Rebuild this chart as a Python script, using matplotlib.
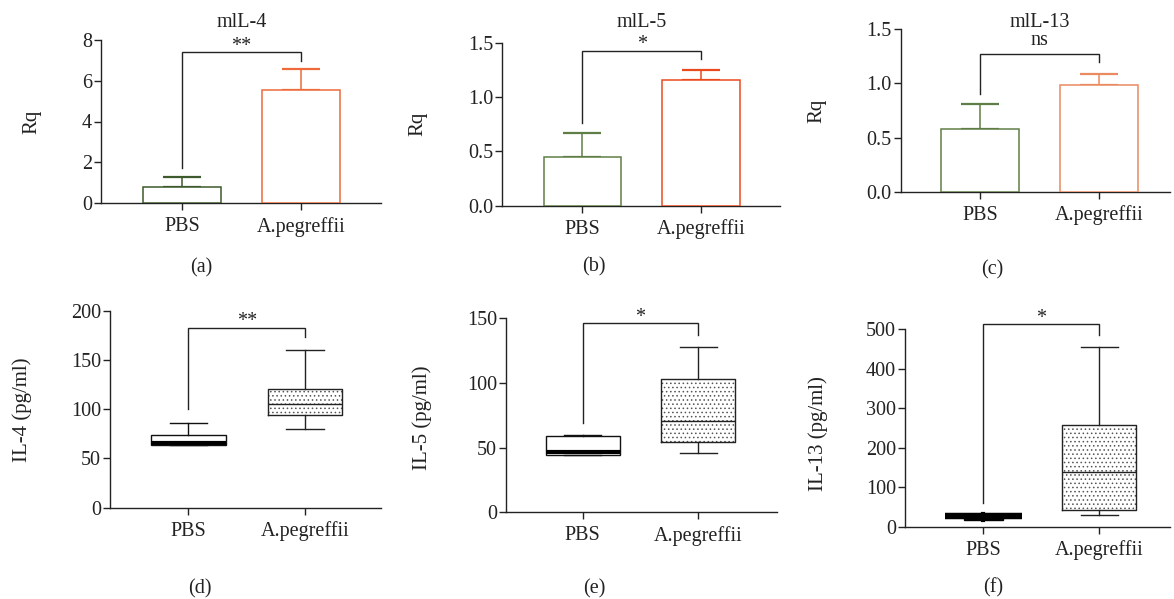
import matplotlib
matplotlib.use("Agg")
import matplotlib.pyplot as plt
import numpy as np

plt.rcParams['font.family'] = ['Liberation Serif', 'DejaVu Serif']
plt.rcParams['hatch.linewidth'] = 0.6

# ---------------- data ----------------
categories = ["PBS", "A.pegreffii"]

# top row: qPCR relative quantity (mean, upper SEM)
titles_top = ["mlL-4", "mlL-5", "mlL-13"]
a_mean = [0.80, 5.55]
a_err = [0.47, 1.05]
b_mean = [0.45, 1.157]
b_err = [0.215, 0.095]
c_mean = [0.58, 0.99]
c_err = [0.23, 0.10]
sig_top = ["**", "*", "ns"]
ylim_top = [8, 1.5, 1.5]
yticks_top = [[0, 2, 4, 6, 8], [0.0, 0.5, 1.0, 1.5], [0.0, 0.5, 1.0, 1.5]]
ytick_labels_top = [["0", "2", "4", "6", "8"],
                    ["0.0", "0.5", "1.0", "1.5"],
                    ["0.0", "0.5", "1.0", "1.5"]]
# bracket: (level, left foot, right foot)
brk_a = (7.4, 1.7, 6.97)
brk_b = (1.426, 0.764, 1.347)
brk_c = (1.272, 0.903, 1.20)

# bottom row: ELISA boxplots (min, q1, median, q3, max)
d_pbs = [63.7, 63.7, 65.7, 73.5, 85.7]
d_apeg = [80.0, 93.8, 105.3, 120.5, 160.0]
e_pbs = [44.0, 44.5, 47.0, 58.8, 60.0]
e_apeg = [46.1, 54.6, 70.8, 103.3, 128.0]
f_pbs = [26.0, 18.0, 25.0, 32.0, 28.0]
f_apeg = [30.0, 43.0, 138.0, 257.0, 455.0]
sig_bot = ["**", "*", "*"]
ylabels_bot = ["IL-4 (pg/ml)", "IL-5 (pg/ml)", "IL-13 (pg/ml)"]
ylim_bot = [200, 150, 500]
yticks_bot = [[0, 50, 100, 150, 200], [0, 50, 100, 150], [0, 100, 200, 300, 400, 500]]
brk_d = (182.7, 100.2, 173.0)
brk_e = (146.0, 68.8, 137.0)
brk_f = (512.0, 59.0, 485.0)

panel_letters = ["(a)", "(b)", "(c)", "(d)", "(e)", "(f)"]

# ---------------- layout ----------------
W, H = 1174, 599
fig = plt.figure(figsize=(W / 100, H / 100), dpi=100)

def px_axes(x0, x1, ytop, ybot):
    return fig.add_axes([x0 / W, (H - ybot) / H, (x1 - x0) / W, (ybot - ytop) / H])

ax_a = px_axes(101, 381, 40, 203)
ax_b = px_axes(502.3, 780, 42.7, 205.7)
ax_c = px_axes(900.7, 1170, 29.3, 191.7)
ax_d = px_axes(110, 381, 310.7, 507.7)
ax_e = px_axes(506, 776.7, 318.3, 512.3)
ax_f = px_axes(905, 1170, 329, 526.7)

xlims = [(-0.68, 1.67), (-0.674, 1.666), (-0.666, 1.597),
         (-0.671, 1.651), (-0.663, 1.677), (-0.675, 1.61)]

TXT = "#222222"
FS = 14.5

def style(ax, xl):
    for s in ["top", "right"]:
        ax.spines[s].set_visible(False)
    for s in ["left", "bottom"]:
        ax.spines[s].set_linewidth(1.0)
        ax.spines[s].set_color("#222222")
    ax.set_xlim(*xl)
    ax.set_xticks([0, 1])
    ax.set_xticklabels(categories, fontsize=FS, color=TXT)
    ax.tick_params(axis="x", direction="out", length=5, width=1.0, pad=5, colors="#222222")
    ax.tick_params(axis="y", direction="out", length=5, width=1.0, pad=1.5, colors="#222222",
                   labelsize=FS)
    for t in ax.get_xticklabels() + ax.get_yticklabels():
        t.set_color(TXT)

def bracket(ax, brk, text, off=1.0):
    lvl, lf, rf = brk
    ax.plot([0, 0, 1, 1], [lf, lvl, lvl, rf], color="#222222", lw=1.0,
            clip_on=False, solid_joinstyle="miter")
    ax.annotate(text, xy=(0.5, lvl), xytext=(0, off), textcoords="offset points",
                ha="center", va="baseline", fontsize=FS, color=TXT, annotation_clip=False)

# ---------------- top row ----------------
top_axes = [ax_a, ax_b, ax_c]
means = [a_mean, b_mean, c_mean]
errs = [a_err, b_err, c_err]
brks_top = [brk_a, brk_b, brk_c]
green_cols = ["#3d5a2c", "#5f7e45", "#5f7e45"]
orange_cols = ["#ee6a3a", "#ea4a1e", "#ea8a60"]
title_frac = [1.0816, 1.0945, 1.012]
ylab_x_top = [-0.246, -0.3036, -0.312]

for i, ax in enumerate(top_axes):
    xs = np.arange(len(categories))
    cols = [green_cols[i], orange_cols[i]]
    for j in range(len(categories)):
        ax.errorbar(xs[j], means[i][j], yerr=[[0], [errs[i][j]]], fmt="none",
                    ecolor=cols[j], elinewidth=1.1, capsize=14, capthick=1.6, zorder=2)
    ax.bar(xs, means[i], width=0.65, facecolor="white", edgecolor=cols, linewidth=1.1, zorder=3)
    ax.set_ylim(0, ylim_top[i])
    ax.set_yticks(yticks_top[i])
    ax.set_yticklabels(ytick_labels_top[i])
    style(ax, xlims[i])
    ax.set_ylabel("Rq", fontsize=FS + 0.5, color=TXT, va="center")
    ax.yaxis.set_label_coords(ylab_x_top[i], 0.5)
    ax.text(0.5, title_frac[i], titles_top[i], transform=ax.get_xaxis_transform(),
            ha="center", va="baseline", fontsize=FS, color=TXT)
    bracket(ax, brks_top[i], sig_top[i], off=(6.5 if sig_top[i] == "ns" else 1.0))

# ---------------- bottom row ----------------
bot_axes = [ax_d, ax_e, ax_f]
pbs_sets = [d_pbs, e_pbs, f_pbs]
apeg_sets = [d_apeg, e_apeg, f_apeg]
brks_bot = [brk_d, brk_e, brk_f]
ylab_bot = [(-0.326, 0.496), (-0.311, 0.485), (-0.327, 0.469)]

def stats(v, label):
    return dict(whislo=v[0], q1=v[1], med=v[2], q3=v[3], whishi=v[4], label=label, fliers=[])

for i, ax in enumerate(bot_axes):
    sp = stats(pbs_sets[i], categories[0])
    sa = stats(apeg_sets[i], categories[1])
    lw = 1.0
    # hatched fill for A.pegreffii
    ax.bxp([sa], positions=[1], widths=[0.64], patch_artist=True, showcaps=False,
           boxprops=dict(facecolor="white", edgecolor="#555555", hatch="....", linewidth=0),
           whiskerprops=dict(linewidth=0), medianprops=dict(linewidth=0), manage_ticks=False)
    ax.bxp([sa], positions=[1], widths=[0.64], capwidths=[0.32],
           boxprops=dict(color="#222222", linewidth=lw),
           whiskerprops=dict(color="#222222", linewidth=lw),
           capprops=dict(color="#222222", linewidth=lw),
           medianprops=dict(color="#222222", linewidth=lw), manage_ticks=False)
    if i < 2:
        ax.bxp([sp], positions=[0], widths=[0.64], capwidths=[0.32], patch_artist=True,
               boxprops=dict(facecolor="white", edgecolor="#111111", linewidth=lw),
               whiskerprops=dict(color="#111111", linewidth=lw),
               capprops=dict(color="#111111", linewidth=lw),
               medianprops=dict(color="#000000", linewidth=3.0, solid_capstyle="butt"),
               manage_ticks=False)
    else:
        ax.bxp([sp], positions=[0], widths=[0.34], capwidths=[0.66], patch_artist=True,
               boxprops=dict(facecolor="#000000", edgecolor="#000000", linewidth=lw),
               whiskerprops=dict(color="#000000", linewidth=3),
               capprops=dict(color="#000000", linewidth=4.5, solid_capstyle="butt"),
               medianprops=dict(color="#000000", linewidth=3.0), manage_ticks=False)
    ax.set_ylim(0, ylim_bot[i])
    ax.set_yticks(yticks_bot[i])
    style(ax, xlims[i + 3])
    ax.set_ylabel(ylabels_bot[i], fontsize=FS + 0.5, color=TXT, va="center")
    ax.yaxis.set_label_coords(*ylab_bot[i])
    bracket(ax, brks_bot[i], sig_bot[i], off=1.0)

# panel letters
letter_pos = [(201, 268), (594, 267), (992, 270), (200, 589), (594, 589), (993, 588)]
for lab, (x, y) in zip(panel_letters, letter_pos):
    fig.text(x / W, 1 - y / H, lab, ha="center", va="center", fontsize=FS, color=TXT)

fig.savefig("out.png", dpi=100)
